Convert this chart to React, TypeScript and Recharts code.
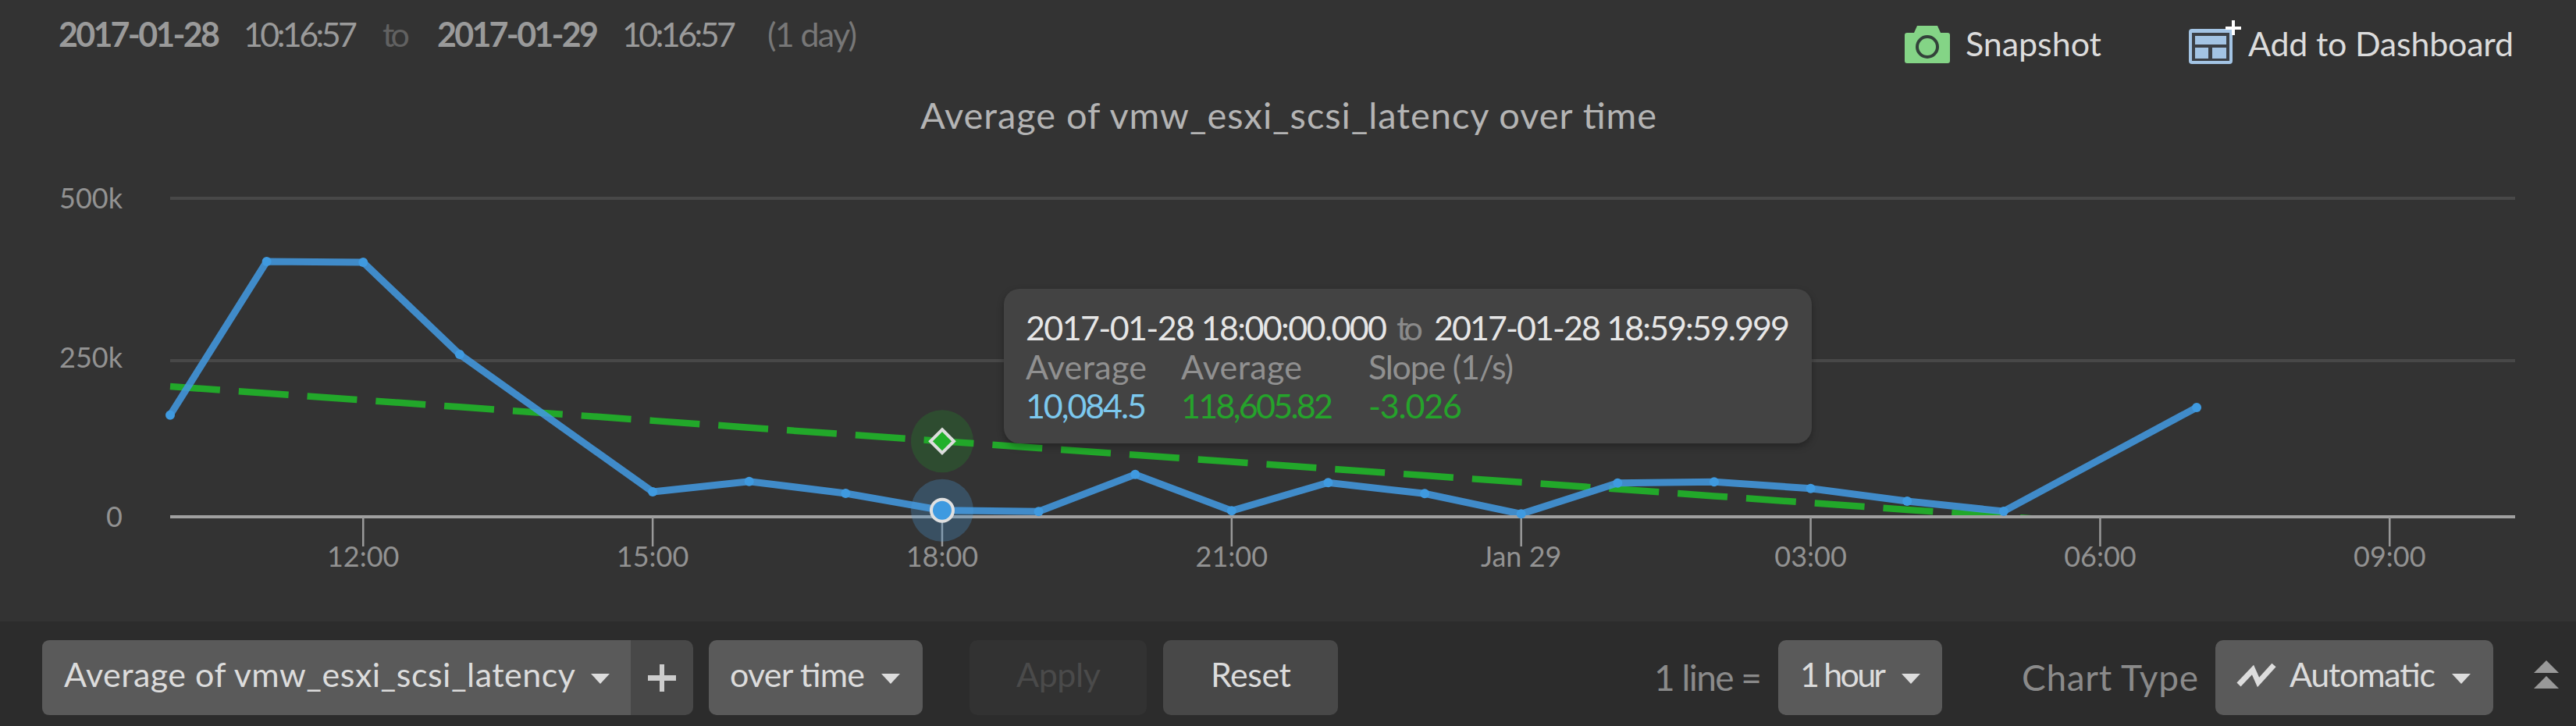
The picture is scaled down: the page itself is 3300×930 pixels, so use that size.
import React from 'react';
import {
  ComposedChart,
  Line,
  XAxis,
  YAxis,
  ReferenceLine,
  Tooltip,
} from 'recharts';

// hour of the day, counted from 2017-01-28 00:00 (hours 14 and 30 have no bucket)
const hours = [10, 11, 12, 13, 15, 16, 17, 18, 19, 20, 21, 22, 23, 24, 25, 26, 27, 28, 29, 31];
const averages = [
  159700, 400700, 399500, 254900, 39200, 55500, 36800, 10084.5, 8200, 66500, 9400, 53600,
  36400, 4500, 53000, 54800, 44500, 24500, 8600, 171600,
];
const trend = [
  204600, 193900, 183100, 172400, 150900, 140100, 129400, 118605.82, 107900, 97100, 86400,
  75600, 64900, 54100, 43400, 32600, 21900, 11100, 400, -21100,
];
const xTicks = [12, 15, 18, 21, 24, 27, 30, 33];
const xTickLabels = ['12:00', '15:00', '18:00', '21:00', 'Jan 29', '03:00', '06:00', '09:00'];
const yTicks = [0, 250000, 500000];
const yTickLabels = ['0', '250k', '500k'];
const gridValues = [245000, 500000]; // the middle grid line sits a little under its label in the source
const selectedHour = 18;
const slope = '-3.026';

const FONT = 'Lato, "Open Sans", sans-serif';
const chartData = hours.map((hour, i) => ({ hour, average: averages[i], trend: trend[i] }));

function T({ x, y, w, size = 43, fill = '#dcdcdc', weight = 400, children }: any) {
  return (
    <text
      x={x}
      y={y}
      fontSize={size}
      fill={fill}
      fontWeight={weight}
      fontFamily={FONT}
      textLength={w}
      lengthAdjust="spacing"
    >
      {children}
    </text>
  );
}

function Caret({ x, y, w = 24, h = 13, fill = '#dddddd', up = false }: any) {
  const pts = up
    ? `${x},${y + h} ${x + w},${y + h} ${x + w / 2},${y}`
    : `${x},${y} ${x + w},${y} ${x + w / 2},${y + h}`;
  return <polygon points={pts} fill={fill} />;
}

function Chrome() {
  return (
    <svg width={3300} height={930} style={{ position: 'absolute', left: 0, top: 0 }}>
      <rect width={3300} height={930} fill="#333333" />
      <T x={75} y={60} w={207} fill="#9a9a9a" weight={700}>2017-01-28</T>
      <T x={312} y={60} w={146} fill="#9a9a9a">10:16:57</T>
      <T x={490} y={60} w={35} fill="#616161">to</T>
      <T x={560} y={60} w={207} fill="#9a9a9a" weight={700}>2017-01-29</T>
      <T x={797} y={60} w={146} fill="#9a9a9a">10:16:57</T>
      <T x={983} y={60} w={115} fill="#777777">(1 day)</T>

      <T x={1179} y={165} w={943} size={47} fill="#b4b4b4">Average of vmw_esxi_scsi_latency over time</T>

      <path d="M2443 42 H2452 L2456 33 H2482 L2486 42 H2495 Q2498 42 2498 45 V78 Q2498 81 2495 81 H2443 Q2440 81 2440 78 V45 Q2440 42 2443 42 Z" fill="#84d486" />
      <circle cx={2469} cy={60} r={13} fill="#84d486" stroke="#33423a" strokeWidth={4} />
      <T x={2518} y={72} w={174}>Snapshot</T>

      <rect x={2804} y={37} width={56} height={45} rx={4} fill="#a3c4e4" />
      <rect x={2808} y={42} width={48} height={36} fill="#3b4046" />
      <rect x={2812} y={46} width={40} height={11} fill="#a3c4e4" />
      <rect x={2812} y={61} width={17} height={14} fill="#a3c4e4" />
      <rect x={2834} y={61} width={18} height={14} fill="#a3c4e4" />
      <rect x={2851} y={34} width={20} height={4} fill="#ffffff" />
      <rect x={2859} y={26} width={4} height={19} fill="#ffffff" />
      <T x={2880} y={72} w={340}>Add to Dashboard</T>

      <rect y={796} width={3300} height={134} fill="#2c2c2c" />

      <rect x={54} y={820} width={834} height={96} rx={10} fill="#484848" />
      <path d="M64 820 H808 V916 H64 Q54 916 54 906 V830 Q54 820 64 820 Z" fill="#5a5a5a" />
      <T x={82} y={880} w={655}>Average of vmw_esxi_scsi_latency</T>
      <Caret x={757} y={863} />
      <rect x={830} y={865} width={36} height={7} fill="#cccccc" />
      <rect x={845} y={851} width={6} height={35} fill="#cccccc" />

      <rect x={908} y={820} width={274} height={96} rx={10} fill="#5a5a5a" />
      <T x={935} y={880} w={173}>over time</T>
      <Caret x={1129} y={863} />

      <rect x={1242} y={820} width={227} height={96} rx={10} fill="#323232" />
      <T x={1302} y={880} w={108} fill="#4a4a4a">Apply</T>

      <rect x={1490} y={820} width={224} height={96} rx={10} fill="#484848" />
      <T x={1551} y={880} w={103}>Reset</T>

      <T x={2119} y={885} w={138} size={46} fill="#8a8a8a">1 line =</T>
      <rect x={2278} y={820} width={210} height={96} rx={10} fill="#5a5a5a" />
      <T x={2306} y={880} w={110}>1 hour</T>
      <Caret x={2436} y={863} />

      <T x={2590} y={885} w={226} size={46} fill="#8a8a8a">Chart Type</T>
      <rect x={2838} y={820} width={356} height={96} rx={10} fill="#5a5a5a" />
      <polyline points="2868,877 2886,858 2893,874 2913,852" fill="none" stroke="#dddddd" strokeWidth={7} />
      <T x={2933} y={880} w={187}>Automatic</T>
      <Caret x={3141} y={863} />

      <Caret x={3246} y={846} w={32} h={16} fill="#999999" up />
      <Caret x={3246} y={866} w={32} h={16} fill="#999999" up />
    </svg>
  );
}

function AverageDot(props: any) {
  const { cx, cy, payload, index } = props;
  if (payload.hour !== selectedHour) {
    return <circle key={index} cx={cx} cy={cy} r={6} fill="#3f9ae0" />;
  }
  return (
    <g key={index}>
      <circle cx={cx} cy={cy} r={40} fill="#4a9ee0" fillOpacity={0.28} />
      <circle cx={cx} cy={cy} r={14} fill="#3f9ae0" stroke="#e0e0e0" strokeWidth={4} />
    </g>
  );
}

function TrendDot(props: any) {
  const { cx, cy, payload, index } = props;
  if (payload.hour !== selectedHour) return <g key={index} />;
  return (
    <g key={index}>
      <circle cx={cx} cy={cy} r={40} fill="#22a82a" fillOpacity={0.22} />
      <polygon
        points={`${cx},${cy - 15} ${cx + 15},${cy} ${cx},${cy + 15} ${cx - 15},${cy}`}
        fill="#22b02a"
        stroke="#dddddd"
        strokeWidth={4}
      />
    </g>
  );
}

function HoverBox() {
  const i = hours.indexOf(selectedHour);
  const avg = averages[i].toLocaleString('en-US');
  const tr = trend[i].toLocaleString('en-US');
  return (
    <div
      style={{
        width: 1035,
        height: 198,
        background: '#434343',
        borderRadius: 20,
        boxShadow: '0 4px 10px rgba(0,0,0,0.3)',
      }}
    >
      <svg width={1035} height={198} style={{ display: 'block' }}>
        <T x={28} y={66} w={463} fill="#e6e6e6">2017-01-28 18:00:00.000</T>
        <T x={503} y={66} w={34} fill="#8a8a8a">to</T>
        <T x={551} y={66} w={456} fill="#e6e6e6">2017-01-28 18:59:59.999</T>
        <T x={28} y={116} w={155} fill="#909090">Average</T>
        <T x={227} y={116} w={155} fill="#909090">Average</T>
        <T x={467} y={116} w={186} fill="#909090">Slope (1/s)</T>
        <T x={28} y={166} w={155} fill="#7cc8ee">{avg}</T>
        <T x={227} y={166} w={195} fill="#25a32b">{tr}</T>
        <T x={467} y={166} w={120} fill="#25a32b">{slope}</T>
      </svg>
    </div>
  );
}

export default function App() {
  return (
    <div style={{ position: 'absolute', left: 0, top: 0, width: 3300, height: 930, overflow: 'hidden' }}>
      <Chrome />
      <div style={{ position: 'absolute', left: 0, top: 0 }}>
        <ComposedChart
          width={3300}
          height={930}
          data={chartData}
          margin={{ top: 254, right: 78, bottom: 168, left: 0 }}
        >
          <XAxis
            dataKey="hour"
            type="number"
            domain={[10, 34.3]}
            ticks={xTicks}
            interval={0}
            height={100}
            tickSize={38}
            tickMargin={0}
            tickFormatter={(v: number) => xTickLabels[xTicks.indexOf(v)]}
            tick={{ fontSize: 36, fill: '#929292', fontFamily: FONT }}
            tickLine={{ stroke: '#9a9a9a', strokeWidth: 2.5 }}
            axisLine={{ stroke: '#a0a0a0', strokeWidth: 4 }}
          />
          <YAxis
            domain={[0, 500000]}
            ticks={yTicks}
            interval={0}
            width={218}
            tickSize={0}
            tickMargin={61}
            tickFormatter={(v: number) => yTickLabels[yTicks.indexOf(v)]}
            tick={{ fontSize: 36, fill: '#929292', fontFamily: FONT }}
            tickLine={false}
            axisLine={false}
          />
          <YAxis yAxisId="trend" hide domain={[0, 500000]} allowDataOverflow />
          {gridValues.map((v) => (
            <ReferenceLine key={v} y={v} stroke="#484848" strokeWidth={4} />
          ))}
          <Line
            yAxisId="trend"
            dataKey="trend"
            stroke="#22a82a"
            strokeWidth={8.5}
            strokeDasharray="64 24"
            dot={TrendDot}
            activeDot={false}
            isAnimationActive={false}
          />
          <Line
            dataKey="average"
            stroke="#4297de"
            strokeOpacity={0.88}
            strokeWidth={9}
            dot={AverageDot}
            activeDot={false}
            isAnimationActive={false}
          />
          <Tooltip
            active
            defaultIndex={hours.indexOf(selectedHour)}
            position={{ x: 1286, y: 370 }}
            cursor={false}
            isAnimationActive={false}
            content={() => <HoverBox />}
            wrapperStyle={{ outline: 'none' }}
          />
        </ComposedChart>
      </div>
    </div>
  );
}
